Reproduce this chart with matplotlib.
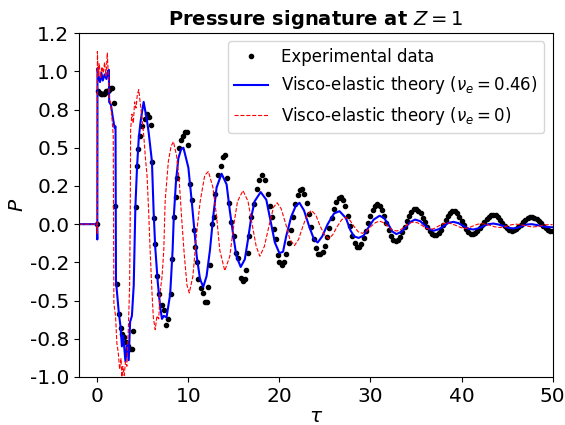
import matplotlib
matplotlib.use("Agg")
import matplotlib.pyplot as plt

tau_exp = [0.0, 0.1, 0.25, 0.4, 0.55, 0.7, 0.85, 1.0, 1.15, 1.3, 1.45, 1.6, 1.8, 1.95,
           2.18, 2.36, 2.55, 2.75, 2.95, 3.15, 3.38, 3.6, 3.8, 3.95, 4.22, 4.35, 4.5,
           4.73, 4.95, 5.2, 5.45, 5.7, 5.85, 6.0, 6.2, 6.38, 6.55, 6.8, 7.05, 7.3, 7.55,
           7.8, 8.05, 8.25, 8.45, 8.6, 8.75, 9.0, 9.2, 9.4, 9.6, 9.8, 10.0, 10.2, 10.4,
           10.6, 10.75, 10.9, 11.1, 11.35, 11.6, 11.8, 12.0, 12.2, 12.4, 12.6, 12.8,
           12.95, 13.3, 13.55, 13.8, 14.0, 14.25, 14.5, 14.7, 15.0, 15.25, 15.5, 15.8,
           16.0, 16.2, 16.3, 16.5, 16.7, 16.9, 17.2, 17.5, 17.8, 18.1, 18.4, 18.7, 19.0,
           19.2, 19.4, 19.6, 19.8, 20.0, 20.25, 20.5, 20.75, 21.0, 21.25, 21.5, 21.75,
           22.0, 22.25, 22.5, 22.75, 23.0, 23.25, 23.5, 23.75, 24.0, 24.25, 24.5, 24.75,
           25.0, 25.25, 25.5, 25.75, 26.0, 26.25, 26.5, 26.75, 27.0, 27.25, 27.5, 27.75,
           28.0, 28.25, 28.5, 28.75, 29.0, 29.25, 29.5, 29.75, 30.0, 30.25, 30.5, 30.75,
           31.0, 31.25, 31.5, 31.75, 32.0, 32.25, 32.5, 32.75, 33.0, 33.25, 33.5, 33.75,
           34.0, 34.25, 34.5, 34.75, 35.0, 35.25, 35.5, 35.75, 36.0, 36.25, 36.5, 36.75,
           37.0, 37.25, 37.5, 37.75, 38.0, 38.25, 38.5, 38.75, 39.0, 39.25, 39.5, 39.75,
           40.0, 40.25, 40.5, 40.75, 41.0, 41.25, 41.5, 41.75, 42.0, 42.25, 42.5, 42.75,
           43.0, 43.25, 43.5, 43.75, 44.0, 44.25, 44.5, 44.75, 45.0, 45.25, 45.5, 45.75,
           46.0, 46.25, 46.5, 46.75, 47.0, 47.25, 47.5, 47.75, 48.0, 48.25, 48.5, 48.75,
           49.0, 49.25, 49.5, 49.75, 50.0]
p_exp = [0.0, 0.87, 0.86, 0.85, 0.85, 0.85, 0.86, 0.87, 0.87, 0.88, 0.89, 0.89, 0.79, 0.12,
         -0.39, -0.59, -0.68, -0.72, -0.74, -0.77, -0.80, -0.82, -0.82, -0.70, 0.11, 0.38, 0.49,
         0.58, 0.64, 0.69, 0.72, 0.70, 0.65, 0.41, 0.04, -0.13, -0.34, -0.46, -0.53, -0.56, -0.66,
         -0.62, -0.46, -0.23, 0.05, 0.18, 0.30, 0.50, 0.55, 0.58, 0.60, 0.60, 0.52, 0.26, 0.16,
         -0.04, -0.15, -0.25, -0.36, -0.42, -0.45, -0.51, -0.51, -0.41, -0.27, 0.0, 0.05,
         0.20, 0.32, 0.38, 0.44, 0.45, 0.30, 0.14, 0.015, -0.08, -0.19, -0.22, -0.35,
         -0.37, -0.36, -0.30, -0.19, -0.08, 0.05, 0.13, 0.23, 0.29, 0.32, 0.29, 0.20, 0.12,
         0.05, -0.03, -0.10, -0.20, -0.25, -0.27, -0.25, -0.197, -0.124, -0.038, 0.05, 0.13,
         0.19, 0.224, 0.227, 0.198, 0.141, 0.065, -0.019, -0.097, -0.159, -0.194, -0.198, -0.179,
         -0.14, -0.085, -0.023, 0.041, 0.10, 0.145, 0.173, 0.18, 0.16, 0.116, 0.055, -0.012,
         -0.076, -0.123, -0.148, -0.147, -0.127, -0.092, -0.046, 0.005, 0.054, 0.094, 0.121, 0.13,
         0.121, 0.095, 0.056, 0.01, -0.036, -0.075, -0.101, -0.11, -0.103, -0.083, -0.053, -0.017,
         0.021, 0.056, 0.082, 0.097, 0.099, 0.089, 0.07, 0.043, 0.013, -0.018, -0.045, -0.064,
         -0.074, -0.073, -0.06, -0.037, -0.007, 0.024, 0.052, 0.073, 0.084, 0.083, 0.071, 0.049,
         0.022, -0.007, -0.034, -0.054, -0.064, -0.064, -0.056, -0.043, -0.025, -0.005, 0.016, 0.035,
         0.05, 0.06, 0.063, 0.059, 0.047, 0.03, 0.01, -0.01, -0.027, -0.039, -0.043, -0.04,
         -0.032, -0.02, -0.004, 0.012, 0.026, 0.038, 0.045, 0.047, 0.043, 0.034, 0.021, 0.005,
         -0.011, -0.025, -0.036, -0.042, -0.043]

# Visco-elastic theory, nu_e = 0.46
tau_ve = [-2.0, -0.05, 0.0, 0.02, 0.15, 0.3, 0.45, 0.6, 0.8, 1.0, 1.15, 1.27, 1.3, 1.5, 1.7,
          1.9, 2.0, 2.05, 2.36, 2.55, 2.7, 2.85, 3.09, 3.25, 3.45, 3.6, 3.8, 4.0, 4.1, 4.18,
          4.36, 4.55, 4.73, 4.9, 5.09, 5.27, 5.45, 5.64, 6.0, 6.18, 6.36, 6.64, 6.9, 7.1, 7.3,
          7.6, 8.0, 8.27, 8.4, 8.64, 8.9, 9.2, 9.46, 10.0, 10.37, 10.66, 10.92, 11.28, 11.64,
          12.0, 12.37, 12.73, 13.1, 13.65, 14.2, 14.55, 14.9, 15.28, 15.75, 16.2, 16.55, 16.92,
          17.28, 17.94, 18.56, 19.1, 19.5, 20.0, 20.4, 20.74, 21.3, 21.8, 22.2, 22.7, 23.3,
          23.8, 24.2, 24.7, 25.3, 26.0, 26.6, 27.3, 27.8, 28.2, 28.7, 29.25, 29.8, 30.35, 31.0,
          31.5, 32.0, 32.4, 32.85, 33.4, 33.9, 34.4, 34.9, 35.45, 35.95, 36.45, 36.95, 37.5,
          38.05, 38.55, 39.1, 39.65, 40.2, 40.75, 41.3, 41.85, 42.4, 42.95, 43.5, 44.05, 44.6,
          45.15, 45.7, 46.2, 46.7, 47.2, 47.7, 48.2, 48.75, 49.3, 49.8, 50.0]
p_ve = [0.0, 0.0, -0.10, 1.02, 0.96, 0.93, 0.99, 0.94, 0.98, 0.95, 1.00, 1.01, 0.80, 0.78, 0.70,
        0.63, 0.64, -0.37, -0.58, -0.67, -0.80, -0.73, -0.90, -0.79, -0.89, -0.64, -0.60, -0.40,
        -0.10, 0.11, 0.37, 0.56, 0.66, 0.73, 0.80, 0.74, 0.68, 0.60, 0.41, 0.09, -0.15, -0.38,
        -0.54, -0.62, -0.60, -0.61, -0.46, -0.17, 0.05, 0.28, 0.43, 0.49, 0.50, 0.37, 0.15,
        -0.04, -0.21, -0.36, -0.41, -0.34, -0.17, 0.05, 0.24, 0.33, 0.26, 0.09, -0.06, -0.21,
        -0.28, -0.23, -0.10, 0.05, 0.15, 0.21, 0.16, 0.0, -0.12, -0.19, -0.18, -0.08, 0.05,
        0.12, 0.14, 0.09, -0.02, -0.10, -0.12, -0.08, 0.0, 0.07, 0.085, 0.04, -0.04, -0.08,
        -0.09, -0.075, -0.02, 0.03, 0.055, 0.04, -0.005, -0.048, -0.065, -0.05, -0.018, 0.015,
        0.03, 0.02, -0.007, -0.033, -0.043, -0.033, -0.013, 0.008, 0.015, 0.007, -0.012, -0.03,
        -0.035, -0.027, -0.013, 0.0, 0.004, -0.002, -0.012, -0.024, -0.028, -0.022, -0.011,
        -0.002, 0.0, -0.005, -0.012, -0.018, -0.02, -0.02]

# Visco-elastic theory, nu_e = 0
tau_el = [-2.0, -0.05, 0.0, 0.01, 0.1, 0.2, 0.35, 0.5, 0.65, 0.8, 0.95, 1.1, 1.2, 1.3, 1.45,
          1.6, 1.75, 1.82, 2.0, 2.15, 2.3, 2.45, 2.6, 2.7, 2.8, 2.95, 3.1, 3.25, 3.4, 3.55,
          3.62, 3.66, 3.8, 3.95, 4.1, 4.25, 4.4, 4.55, 4.7, 4.9, 5.1, 5.3, 5.46, 5.64, 5.8,
          6.0, 6.15, 6.36, 6.55, 6.75, 6.9, 7.1, 7.3, 7.45, 7.8, 8.1, 8.36, 8.7, 9.0, 9.25,
          9.55, 9.85, 10.1, 10.5, 10.9, 11.3, 11.8, 12.2, 12.7, 13.1, 13.45, 14.0, 14.55, 15.0,
          15.4, 16.0, 16.55, 17.0, 17.45, 17.85, 18.35, 18.9, 19.35, 19.75, 20.2, 20.7, 21.15,
          21.65, 22.1, 22.6, 23.05, 23.5, 24.0, 24.45, 24.95, 25.4, 25.85, 26.35, 26.85, 27.3,
          27.75, 28.2, 28.65, 29.1, 29.6, 30.05, 30.55, 31.0, 31.45, 31.95, 32.4, 32.9, 33.35,
          33.85, 34.3, 34.8, 35.25, 35.7, 36.15, 36.6, 37.05, 37.55, 38.0, 38.5, 38.95, 39.45,
          39.9, 40.4, 40.85, 41.35, 41.8, 42.3, 42.75, 43.25, 43.7, 44.2, 44.65, 45.1, 45.55,
          46.0, 46.45, 46.95, 47.4, 47.9, 48.35, 48.85, 49.3, 49.8, 50.0]
p_el = [0.0, 0.0, -0.06, 1.13, 0.97, 1.05, 0.96, 1.03, 0.99, 1.06, 0.97, 1.12, 0.98, 0.82, 0.80,
        0.70, 0.58, -0.52, -0.60, -0.78, -0.84, -0.95, -0.88, -1.0, -0.93, -0.99, -0.90, -0.93,
        -0.70, -0.40, 0.10, 0.62, 0.72, 0.66, 0.80, 0.76, 0.85, 0.88, 0.80, 0.70, 0.58, 0.42,
        0.32, 0.08, -0.17, -0.44, -0.61, -0.69, -0.60, -0.62, -0.44, -0.35, -0.17, 0.15, 0.41,
        0.51, 0.54, 0.45, 0.28, 0.05, -0.20, -0.40, -0.45, -0.34, -0.06, 0.15, 0.32, 0.345,
        0.24, 0.05, -0.17, -0.305, -0.21, 0.0, 0.15, 0.22, 0.15, 0.0, -0.145, -0.21, -0.145,
        0.0, 0.11, 0.14, 0.10, 0.0, -0.10, -0.14, -0.10, -0.01, 0.06, 0.09, 0.06, -0.01, -0.07,
        -0.095, -0.07, -0.015, 0.03, 0.045, 0.025, -0.015, -0.05, -0.06, -0.045, -0.015, 0.01,
        0.02, 0.01, -0.015, -0.038, -0.045, -0.035, -0.012, 0.007, 0.015, 0.007, -0.01, -0.028,
        -0.035, -0.027, -0.01, 0.003, 0.008, 0.002, -0.01, -0.022, -0.028, -0.022, -0.01, 0.0,
        0.003, -0.001, -0.01, -0.018, -0.022, -0.018, -0.01, -0.003, 0.0, -0.003, -0.009,
        -0.015, -0.018, -0.015, -0.009, -0.004, -0.003, -0.003]

y_ticks = [-1.0, -0.75, -0.5, -0.25, 0.0, 0.25, 0.5, 0.75, 1.0, 1.25]
y_tick_labels = ['-1.0', '-0.8', '-0.5', '-0.2', '0.0', '0.2', '0.5', '0.8', '1.0', '1.2']
x_ticks = [0, 10, 20, 30, 40, 50]

fig = plt.figure(figsize=(5.65, 4.25), dpi=100)
fig.subplots_adjust(left=0.14, right=0.978, bottom=0.113, top=0.922)
ax = fig.add_subplot(111)

ax.plot(tau_exp, p_exp, 'k.', ms=6, label="Experimental data")
ax.plot(tau_ve, p_ve, 'b-', lw=1.5, label=r"Visco-elastic theory ($\nu_e = 0.46$)")
ax.plot(tau_el, p_el, 'r--', lw=0.8, label=r"Visco-elastic theory ($\nu_e = 0$)")

ax.set_xlim(-2, 50)
ax.set_ylim(-1.0, 1.2)
ax.set_xticks(x_ticks)
ax.set_yticks(y_ticks)
ax.set_yticklabels(y_tick_labels)
ax.tick_params(labelsize=14.5)

ax.set_xlabel(r"$\tau$", fontsize=14.5, labelpad=1)
ax.set_ylabel(r"$P$", fontsize=14.5, labelpad=2)
ax.set_title(r"Pressure signature at $Z = 1$", fontsize=14, fontweight='bold')

ax.legend(loc='upper right', fontsize=12, handlelength=2.0)

fig.savefig("out.png", dpi=100)
